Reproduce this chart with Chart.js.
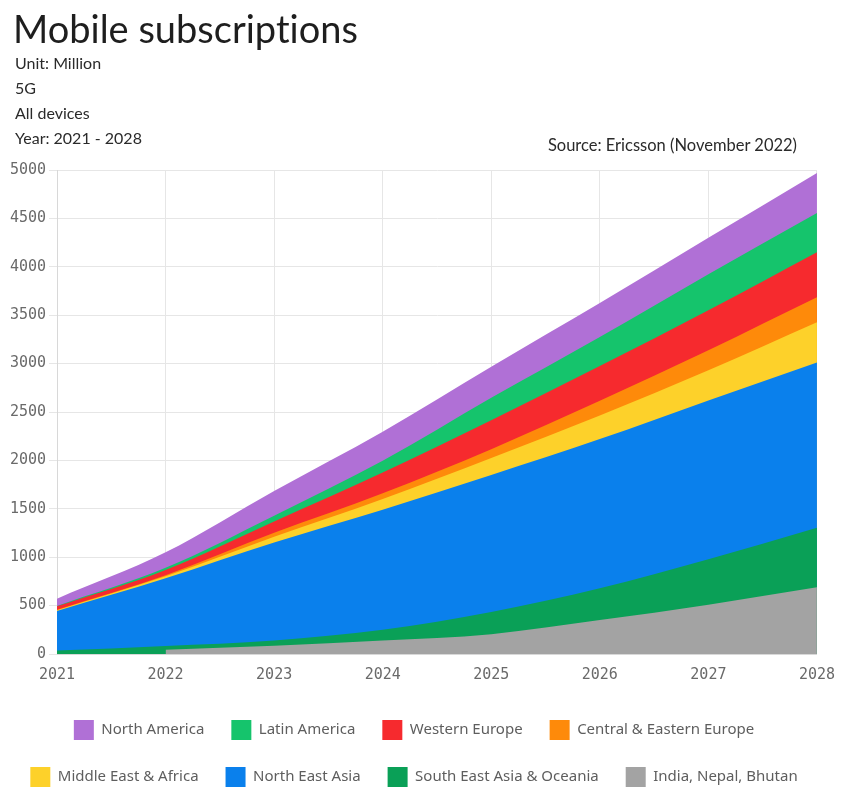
<!DOCTYPE html>
<html>
<head>
<meta charset="utf-8">
<script src="https://cdn.jsdelivr.net/npm/chart.js@4/dist/chart.umd.min.js"></script>
<style>
  html, body { margin: 0; padding: 0; background: #ffffff; overflow: hidden; width: 847px; height: 787px; }
  #wrap { position: absolute; left: 0; top: 0; width: 847px; height: 797px; }
  .hdr { position: absolute; font-family: Lato, "Noto Sans", sans-serif; color: #2a2a2a; white-space: nowrap; font-variant-ligatures: none; font-feature-settings: "liga" 0; }
  #title { left: 13px; top: 5px; font-size: 38px; line-height: 46px; color: #1e1e1e; }
  .sub { left: 15px; font-size: 16px; line-height: 25px; }
  #source { right: 50px; top: 133px; font-size: 16.5px; line-height: 25px; }
</style>
</head>
<body>
<div id="wrap"><canvas id="c"></canvas></div>
<div class="hdr" id="title">Mobile subscriptions</div>
<div class="hdr sub" style="top:50px">Unit: Million</div>
<div class="hdr sub" style="top:75px">5G</div>
<div class="hdr sub" style="top:100px">All devices</div>
<div class="hdr sub" style="top:125px">Year: 2021 - 2028</div>
<div class="hdr" id="source">Source: Ericsson (November 2022)</div>
<script>
// ---- Data (million 5G subscriptions) ----
const years = ['2021', '2022', '2023', '2024', '2025', '2026', '2027', '2028'];
const yTicks = [0, 500, 1000, 1500, 2000, 2500, 3000, 3500, 4000, 4500, 5000];

const northAmerica        = [75, 160, 255, 300, 320, 350, 376, 415];
const latinAmerica        = [5, 22, 59, 120, 231, 300, 372, 404];
const westernEurope       = [35, 55, 118, 215, 300, 360, 414, 466];
const centralEastEurope   = [4, 10, 41, 60, 90, 150, 207, 258];
const middleEastAfrica    = [8, 20, 59, 110, 176, 245, 311, 415];
const northEastAsia       = [410, 700, 1012, 1241, 1415, 1540, 1640, 1707];
const southEastAsiaOceania= [35, 38, 55, 110, 230, 330, 470, 615];
const indiaNepalBhutan    = [null, 45, 85, 140, 205, 350, 510, 690];

const seriesNames = ['North America', 'Latin America', 'Western Europe', 'Central & Eastern Europe',
                     'Middle East & Africa', 'North East Asia', 'South East Asia & Oceania', 'India, Nepal, Bhutan'];
const seriesData = [northAmerica, latinAmerica, westernEurope, centralEastEurope,
                    middleEastAfrica, northEastAsia, southEastAsiaOceania, indiaNepalBhutan];
const seriesColors = ['#b070d6', '#15c46c', '#f62a2e', '#fe8a0a', '#fdd12a', '#0a80ec', '#0aa057', '#a3a3a3'];

// stack bottom-up: India first ... North America last (legend reversed)
const datasets = [];
for (let i = seriesNames.length - 1; i >= 0; i--) {
  datasets.push({
    label: seriesNames[i],
    data: seriesData[i],
    backgroundColor: seriesColors[i],
    borderColor: seriesColors[i],
    borderWidth: 0,
    pointRadius: 0,
    pointHoverRadius: 0,
    fill: 'origin',
    cubicInterpolationMode: 'monotone',
    spanGaps: false
  });
}

const tickFont = { family: '"DejaVu Sans Mono", monospace', size: 15 };

new Chart(document.getElementById('c'), {
  type: 'line',
  data: { labels: years, datasets },
  options: {
    responsive: true,
    maintainAspectRatio: false,
    animation: false,
    events: [],
    layout: { padding: { top: 170, right: 19, bottom: 0, left: 0 } },
    plugins: {
      tooltip: { enabled: false },
      title: { display: false },
      legend: {
        position: 'bottom',
        reverse: true,
        labels: {
          boxWidth: 20,
          boxHeight: 20,
          padding: 27,
          color: '#5e5e5e',
          font: { family: '"Noto Sans", sans-serif', size: 15 }
        }
      }
    },
    scales: {
      x: {
        type: 'category',
        offset: false,
        grid: { color: '#e6e6e6', drawTicks: false },
        border: { color: '#d8d8d8' },
        ticks: { padding: 12, color: '#6a6a6a', maxRotation: 0, font: tickFont },
        afterFit: (scale) => { scale.height = 39; }
      },
      y: {
        stacked: true,
        min: yTicks[0],
        max: yTicks[yTicks.length - 1],
        afterBuildTicks: (scale) => { scale.ticks = yTicks.map(v => ({ value: v })); },
        grid: { color: '#e6e6e6', tickLength: 8 },
        border: { color: '#d8d8d8' },
        ticks: {
          padding: 3,
          color: '#6a6a6a',
          font: tickFont,
          callback: (v) => String(v)
        },
        afterFit: (scale) => { scale.width = 57; }
      }
    }
  }
});
</script>
</body>
</html>
